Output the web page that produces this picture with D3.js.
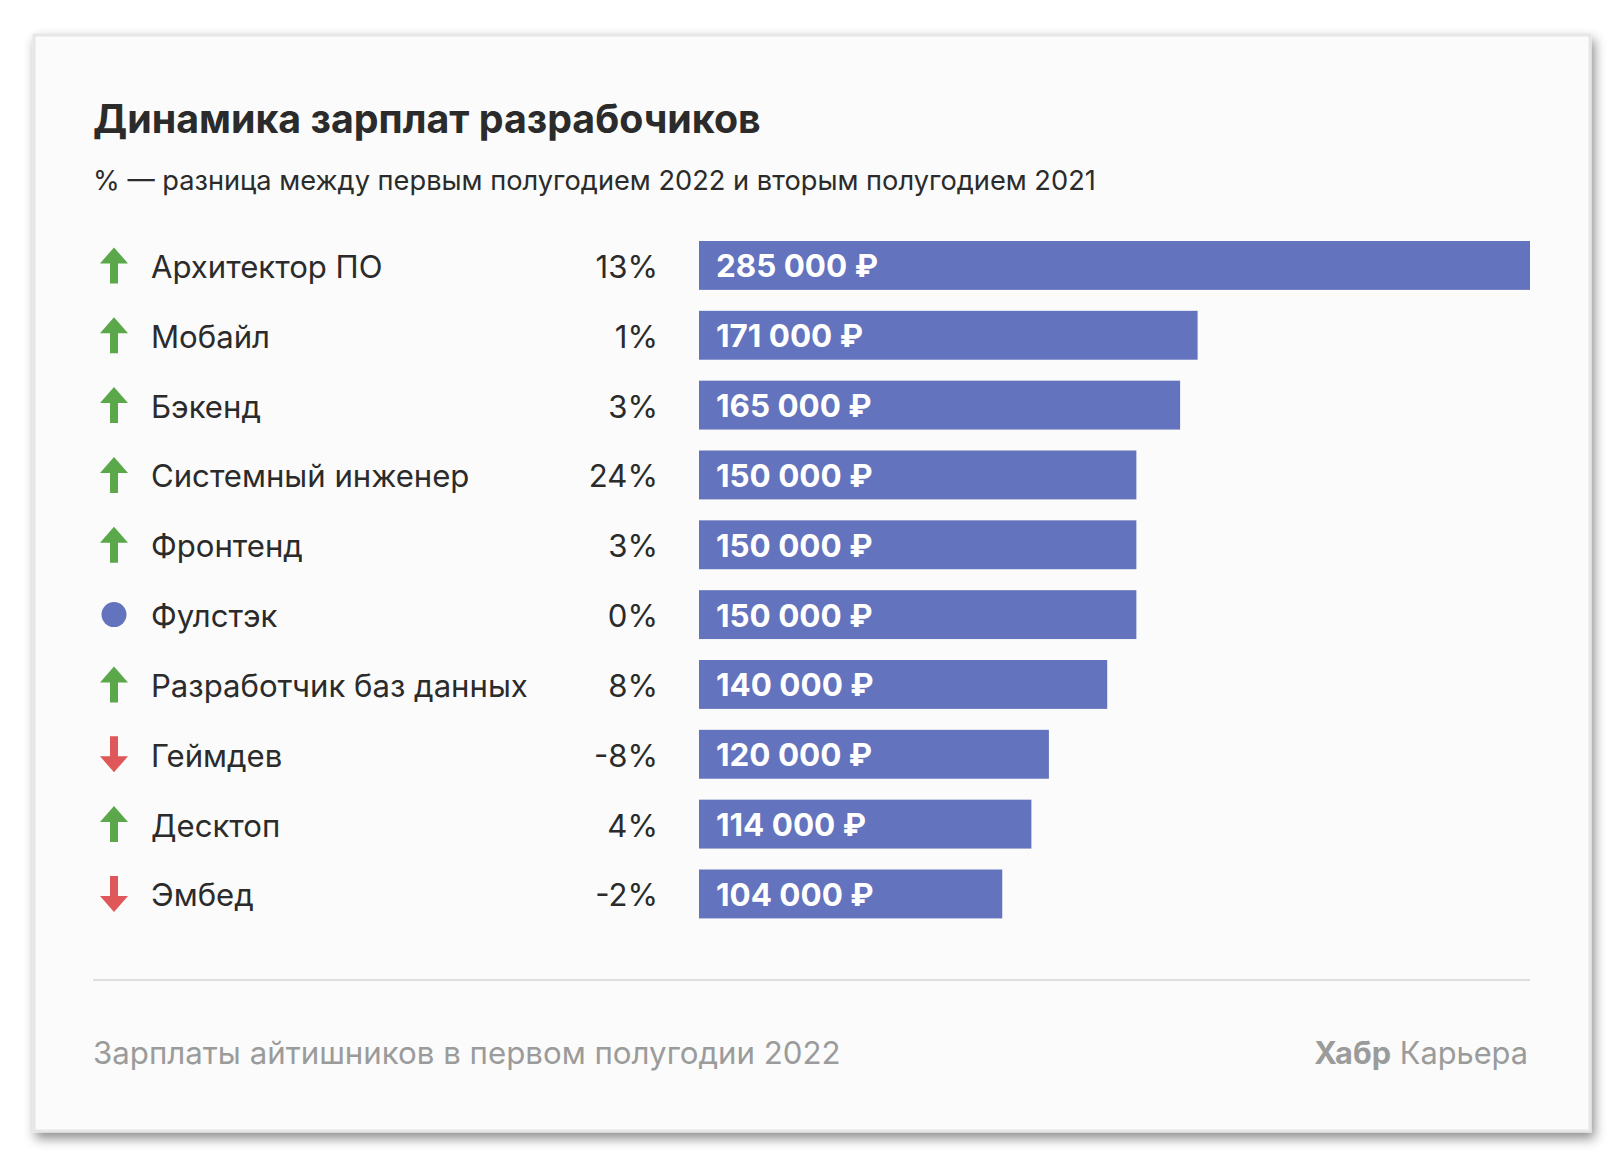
<!DOCTYPE html>
<html>
<head>
<meta charset="utf-8">
<title>Динамика зарплат разрабочиков</title>
<script src="https://d3js.org/d3.v7.min.js"></script>
<style>
    body {
        margin: 0;
        background-color: #ffffff;
    }
    svg text {
        font-family: Inter, "Noto Sans", sans-serif;
    }
</style>
</head>
<body>
<svg id="chart"></svg>
<script>
    // data
    const roles = ["Архитектор ПО", "Мобайл", "Бэкенд", "Системный инженер", "Фронтенд",
        "Фулстэк", "Разработчик баз данных", "Геймдев", "Десктоп", "Эмбед"]
    const salaries = [285000, 171000, 165000, 150000, 150000, 150000, 140000, 120000, 114000, 104000]
    const changes = [13, 1, 3, 24, 3, 0, 8, -8, 4, -2]

    const W = 1624, H = 1169
    const svg = d3.select("#chart").attr("width", W).attr("height", H)

    let defs = svg.append("defs")
    let f = defs.append("filter").attr("id", "shadow")
        .attr("x", "-5%").attr("y", "-5%").attr("width", "110%").attr("height", "112%")
    f.append("feDropShadow").attr("dx", 3).attr("dy", 6).attr("stdDeviation", 6)
        .attr("flood-color", "#000").attr("flood-opacity", 0.45)

    // card
    svg.append("rect")
        .attr("x", 34).attr("y", 35).attr("width", 1556).attr("height", 1096)
        .attr("fill", "#fafbfa").attr("stroke", "#e6e6e6").attr("stroke-width", 3)
        .attr("filter", "url(#shadow)")

    // fit a text's width to a target by changing font size
    let fit = (sel, target) => {
        let w = sel.node().getComputedTextLength()
        let fs = parseFloat(sel.attr("font-size"))
        sel.attr("font-size", fs * target / w)
        return sel
    }

    let title = svg.append("text").text("Динамика зарплат разрабочиков")
        .attr("x", 93).attr("y", 133).attr("font-size", 38).attr("font-weight", 700)
        .attr("fill", "#2b2b2b")
    fit(title, 668)

    let subtitle = svg.append("text").text("% — разница между первым полугодием 2022 и вторым полугодием 2021")
        .attr("x", 93).attr("y", 190).attr("font-size", 26).attr("fill", "#2b2b2b")
    fit(subtitle, 1003)

    let y = d3.scaleBand().domain(roles).range([241, 918.4]).paddingInner(0.3).paddingOuter(0)
    let x = d3.scaleLinear().domain([0, d3.max(salaries)]).range([699, 1530])

    let rows = roles.map((r, i) => ({ role: r, salary: salaries[i], change: changes[i] }))
    let fmt = d3.formatLocale({ decimal: ",", thousands: " ", grouping: [3], currency: ["", ""] }).format(",")

    let g = svg.append("g").selectAll("g").data(rows).enter().append("g")

    g.append("rect")
        .attr("x", x(0))
        .attr("y", d => y(d.role))
        .attr("width", d => x(d.salary) - x(0))
        .attr("height", y.bandwidth())
        .attr("fill", "#6473bd")

    let cy = d => y(d.role) + y.bandwidth() / 2

    let labels = g.append("text").text(d => d.role)
        .attr("x", 151).attr("y", d => cy(d) + 12.5)
        .attr("font-size", 30).attr("fill", "#2b2b2b")
    // common size from the longest label
    let longest = labels.filter(d => d.role === "Разработчик баз данных")
    let lw = longest.node().getComputedTextLength()
    labels.attr("font-size", 30 * 377 / lw)

    g.append("text").text(d => d.change + "%")
        .attr("x", 658).attr("y", d => cy(d) + 12.5)
        .attr("text-anchor", "end")
        .attr("font-size", 30 * 377 / lw).attr("fill", "#2b2b2b")

    let money = g.append("text").text(d => fmt(d.salary) + " ₽")
        .attr("x", x(0) + 17).attr("y", d => cy(d) + 12)
        .attr("font-size", 30).attr("font-weight", 700).attr("fill", "#ffffff")
    let mw = money.filter((d, i) => i === 0).node().getComputedTextLength()
    money.attr("font-size", 30 * 162 / mw)

    // arrows and dot
    let arrow = () => {
        let p = d3.path()
        let s = 4, hw = 14, hh = 16, h = 18
        // drawn pointing up, flipped for down
        p.moveTo(0, -h)
        p.lineTo(hw, -h + hh)
        p.lineTo(s, -h + hh)
        p.lineTo(s, h)
        p.lineTo(-s, h)
        p.lineTo(-s, -h + hh)
        p.lineTo(-hw, -h + hh)
        p.closePath()
        return p.toString()
    }
    g.filter(d => d.change !== 0).append("path")
        .attr("d", arrow())
        .attr("transform", d => `translate(114,${cy(d)}) scale(1,${d.change > 0 ? 1 : -1})`)
        .attr("fill", d => d.change > 0 ? "#5aa84a" : "#e0575a")
    g.filter(d => d.change === 0).append("circle")
        .attr("cx", 114).attr("cy", cy).attr("r", 12.5)
        .attr("fill", "#6473bd")

    // divider
    svg.append("line")
        .attr("x1", 93).attr("x2", 1530).attr("y1", 980).attr("y2", 980)
        .attr("stroke", "#dedede").attr("stroke-width", 2)

    let foot = svg.append("text").text("Зарплаты айтишников в первом полугодии 2022")
        .attr("x", 93).attr("y", 1064).attr("font-size", 30).attr("fill", "#9b9b9b")
    fit(foot, 748)

    let brand = svg.append("text")
        .attr("x", 1528).attr("y", 1064).attr("text-anchor", "end")
        .attr("font-size", 30).attr("fill", "#9b9b9b")
    brand.append("tspan").text("Хабр").attr("font-weight", 700)
    brand.append("tspan").text(" Карьера")
    fit(brand, 214)
</script>
</body>
</html>
